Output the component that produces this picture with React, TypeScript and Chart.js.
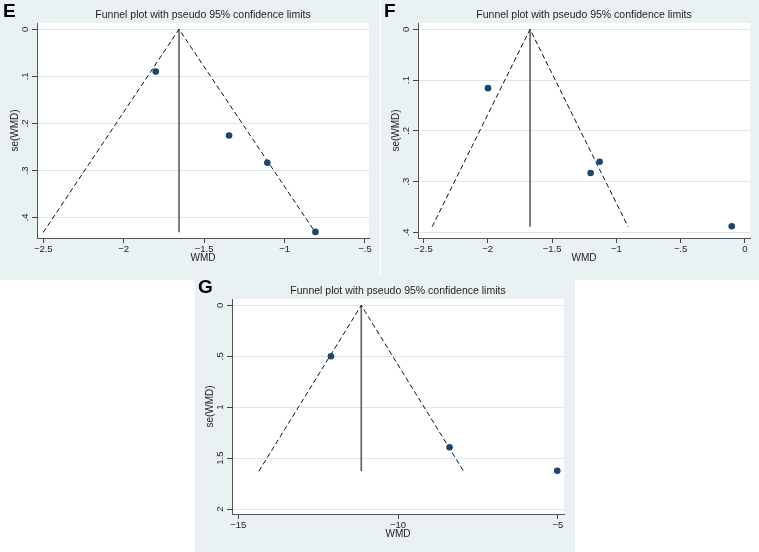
import React, { useEffect, useRef } from "react";
import { Chart, registerables } from "chart.js";

Chart.register(...registerables);

const FONT = "'Liberation Sans', Arial, Helvetica, sans-serif";
const TITLE = "Funnel plot with pseudo 95% confidence limits";
const X_TITLE = "WMD";
const Y_TITLE = "se(WMD)";

// ---- Panel E ----
const eStudyWMD = [-1.801, -1.345, -1.107, -0.808];
const eStudySE = [0.09, 0.226, 0.284, 0.431];
const eFunnelWMD = [-2.5, -1.656, -0.809];
const eFunnelSE = [0.432, 0, 0.432];
const eXTicks = [-2.5, -2, -1.5, -1, -0.5];
const eXTickLabels = ["−2.5", "−2", "−1.5", "−1", "−.5"];
const eYTicks = [0, 0.1, 0.2, 0.3, 0.4];
const eYTickLabels = ["0", ".1", ".2", ".3", ".4"];
const eXRange = [-2.539, -0.475];
const eYRange = [-0.0134, 0.444];

// ---- Panel F ----
const fStudyWMD = [-1.998, -1.13, -1.2, -0.103];
const fStudySE = [0.116, 0.261, 0.283, 0.388];
const fFunnelWMD = [-2.432, -1.671, -0.909];
const fFunnelSE = [0.389, 0, 0.389];
const fXTicks = [-2.5, -2, -1.5, -1, -0.5, 0];
const fXTickLabels = ["−2.5", "−2", "−1.5", "−1", "−.5", "0"];
const fYTicks = [0, 0.1, 0.2, 0.3, 0.4];
const fYTickLabels = ["0", ".1", ".2", ".3", ".4"];
const fXRange = [-2.542, 0.039];
const fYRange = [-0.0124, 0.4112];

// ---- Panel G ----
const gStudyWMD = [-12.1, -8.39, -5.02];
const gStudySE = [0.5, 1.393, 1.625];
const gFunnelWMD = [-14.355, -11.152, -7.95];
const gFunnelSE = [1.629, 0, 1.629];
const gXTicks = [-15, -10, -5];
const gXTickLabels = ["−15", "−10", "−5"];
const gYTicks = [0, 0.5, 1, 1.5, 2];
const gYTickLabels = ["0", ".5", "1", "1.5", "2"];
const gXRange = [-15.196, -4.81];
const gYRange = [-0.062, 2.049];

const PANEL_BG = "#eaf1f3";
const GRID = "#dde7eb";
const POINT = "#1a476f";

type PanelProps = {
  letter: string;
  left: number;
  top: number;
  width: number;
  height: number;
  studyWMD: number[];
  studySE: number[];
  funnelWMD: number[];
  funnelSE: number[];
  xTicks: number[];
  xTickLabels: string[];
  yTicks: number[];
  yTickLabels: string[];
  xRange: number[];
  yRange: number[];
};

function Panel(p: PanelProps) {
  const ref = useRef<HTMLCanvasElement | null>(null);
  useEffect(() => {
    const canvas = ref.current;
    if (!canvas) return;
    const PLOT_LEFT = 37;
    const PLOT_TOP = 23;
    const PLOT_RIGHT = 369;
    const PLOT_BOTTOM = 238;

    const funnel = p.funnelWMD.map((x, i) => ({ x, y: p.funnelSE[i] }));
    const apexX = p.funnelWMD[1];
    const seMax = p.funnelSE[0];
    const vertical = [
      { x: apexX, y: 0 },
      { x: apexX, y: seMax },
    ];
    const studies = p.studyWMD.map((x, i) => ({ x, y: p.studySE[i] }));

    const panelPlugin = {
      id: "panelDecor",
      beforeDraw(chart: any) {
        const { ctx, chartArea } = chart;
        ctx.save();
        ctx.fillStyle = "#ffffff";
        ctx.fillRect(chartArea.left, chartArea.top, chartArea.right - chartArea.left, chartArea.bottom - chartArea.top);
        ctx.restore();
      },
      afterDraw(chart: any) {
        const { ctx, chartArea } = chart;
        const ys = chart.scales.y;
        const cx = (chartArea.left + chartArea.right) / 2;
        const cy = (chartArea.top + chartArea.bottom) / 2;
        ctx.save();
        ctx.fillStyle = "#1e1e1e";
        // title
        ctx.font = `10.5px ${FONT}`;
        ctx.textAlign = "center";
        ctx.textBaseline = "middle";
        ctx.fillText(TITLE, cx, 15);
        // x title
        ctx.font = `10px ${FONT}`;
        ctx.fillText(X_TITLE, cx, 258.5);
        // y tick labels (rotated)
        ctx.font = `9.5px ${FONT}`;
        p.yTicks.forEach((v, i) => {
          const py = ys.getPixelForValue(v);
          ctx.save();
          ctx.translate(25.5, py);
          ctx.rotate(-Math.PI / 2);
          ctx.textAlign = "center";
          ctx.textBaseline = "middle";
          ctx.fillText(p.yTickLabels[i], 0, 0);
          ctx.restore();
        });
        // y title
        ctx.save();
        ctx.font = `10px ${FONT}`;
        ctx.translate(15, cy);
        ctx.rotate(-Math.PI / 2);
        ctx.textAlign = "center";
        ctx.textBaseline = "middle";
        ctx.fillText(Y_TITLE, 0, 0);
        ctx.restore();
        // panel letter
        ctx.fillStyle = "#000";
        ctx.font = `bold 19px ${FONT}`;
        ctx.textAlign = "left";
        ctx.textBaseline = "top";
        ctx.fillText(p.letter, 3, 2);
        ctx.restore();
      },
    };

    const chart = new Chart(canvas, {
      type: "scatter",
      data: {
        datasets: [
          {
            data: studies,
            pointRadius: 3.3,
            pointHoverRadius: 3.3,
            backgroundColor: POINT,
            borderColor: POINT,
            borderWidth: 0,
            showLine: false,
            clip: false,
            order: 0,
          } as any,
          {
            data: funnel,
            showLine: true,
            pointRadius: 0,
            borderColor: "#111111",
            borderWidth: 1,
            borderDash: [5, 3],
            fill: false,
            tension: 0,
            order: 1,
          } as any,
          {
            data: vertical,
            showLine: true,
            pointRadius: 0,
            borderColor: "#606060",
            borderWidth: 1.6,
            fill: false,
            order: 2,
          } as any,
        ],
      },
      options: {
        animation: false,
        responsive: false,
        maintainAspectRatio: false,
        events: [],
        layout: {
          padding: { top: PLOT_TOP, right: p.width - PLOT_RIGHT, left: 0, bottom: 0 },
        },
        plugins: {
          legend: { display: false },
          tooltip: { enabled: false },
          title: { display: false },
        },
        scales: {
          x: {
            type: "linear",
            min: p.xRange[0],
            max: p.xRange[1],
            afterBuildTicks: (s: any) => {
              s.ticks = p.xTicks.map((v) => ({ value: v }));
            },
            afterFit: (s: any) => {
              s.height = p.height - PLOT_BOTTOM;
            },
            grid: {
              drawOnChartArea: false,
              drawTicks: true,
              tickLength: 5,
              tickColor: "#444",
              tickWidth: 1,
            },
            border: { color: "#555", width: 1 },
            ticks: {
              autoSkip: false,
              maxRotation: 0,
              minRotation: 0,
              padding: 1,
              color: "#1e1e1e",
              font: { family: FONT, size: 9.5 },
              callback: (_v: any, i: number) => p.xTickLabels[i],
            },
          },
          y: {
            type: "linear",
            reverse: true,
            min: p.yRange[0],
            max: p.yRange[1],
            afterBuildTicks: (s: any) => {
              s.ticks = p.yTicks.map((v) => ({ value: v }));
            },
            afterFit: (s: any) => {
              s.width = PLOT_LEFT;
            },
            grid: {
              color: GRID,
              lineWidth: 1,
              drawTicks: true,
              tickLength: 5,
              tickColor: "#444",
              tickWidth: 1,
            },
            border: { color: "#555", width: 1 },
            ticks: { display: false },
          },
        },
      } as any,
      plugins: [panelPlugin],
    });
    return () => chart.destroy();
  }, []);

  return (
    <div
      style={{
        position: "absolute",
        left: p.left,
        top: p.top,
        width: p.width,
        height: p.height,
        background: PANEL_BG,
      }}
    >
      <canvas ref={ref} width={p.width} height={p.height} style={{ width: p.width, height: p.height, display: "block" }} />
    </div>
  );
}

export default function App() {
  return (
    <div style={{ position: "absolute", left: 0, top: 0, width: 759, height: 552, background: "#fff", overflow: "hidden" }}>
      <Panel
        letter="E" left={0} top={0} width={380} height={280}
        studyWMD={eStudyWMD} studySE={eStudySE} funnelWMD={eFunnelWMD} funnelSE={eFunnelSE}
        xTicks={eXTicks} xTickLabels={eXTickLabels} yTicks={eYTicks} yTickLabels={eYTickLabels}
        xRange={eXRange} yRange={eYRange}
      />
      <Panel
        letter="F" left={381} top={0} width={378} height={280}
        studyWMD={fStudyWMD} studySE={fStudySE} funnelWMD={fFunnelWMD} funnelSE={fFunnelSE}
        xTicks={fXTicks} xTickLabels={fXTickLabels} yTicks={fYTicks} yTickLabels={fYTickLabels}
        xRange={fXRange} yRange={fYRange}
      />
      <Panel
        letter="G" left={195} top={276} width={380} height={276}
        studyWMD={gStudyWMD} studySE={gStudySE} funnelWMD={gFunnelWMD} funnelSE={gFunnelSE}
        xTicks={gXTicks} xTickLabels={gXTickLabels} yTicks={gYTicks} yTickLabels={gYTickLabels}
        xRange={gXRange} yRange={gYRange}
      />
    </div>
  );
}
